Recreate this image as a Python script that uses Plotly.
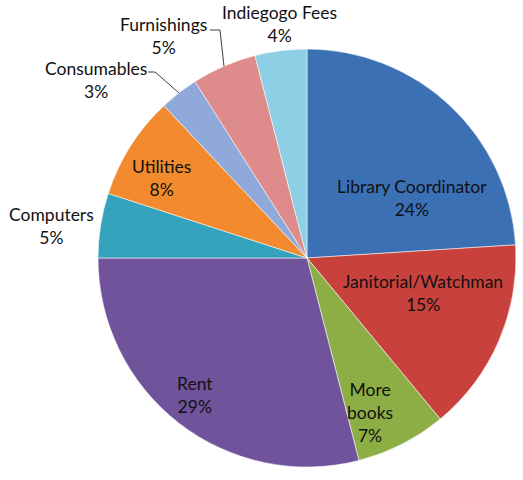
import math
import plotly.graph_objects as go

labels = ["Library Coordinator", "Janitorial/Watchman", "More books", "Rent",
          "Computers", "Utilities", "Consumables", "Furnishings", "Indiegogo Fees"]
values = [24, 15, 7, 29, 5, 8, 3, 5, 4]
display = ["Library Coordinator", "Janitorial/Watchman", "More<br>books", "Rent",
           "Computers", "Utilities", "Consumables", "Furnishings", "Indiegogo Fees"]
colors = ["#3B70B5", "#C8413C", "#8DAE45", "#70539A", "#35A2BE",
          "#F38A2E", "#8FA9DB", "#DE8B8B", "#8DCFE4"]

# label text centres (pixels from top-left) and leader-line elbow points
label_pos = [(412, 198), (423, 293), (370, 412), (195, 395),
             (51, 226), (161, 178), (96, 80), (163, 36), (279, 24)]
leaders = {6: [(148, 72), (155, 72)], 7: [(210, 30), (220, 30)]}

W, H = 523, 480
cx, cy, r = 307, 258, 209

fig = go.Figure(go.Pie(
    labels=labels, values=values,
    textinfo="none",
    sort=False, direction="clockwise", rotation=0,
    marker=dict(colors=colors, line=dict(color="rgba(255,255,255,0.55)", width=1)),
    domain=dict(x=[(cx - r) / W, (cx + r) / W], y=[(H - cy - r) / H, (H - cy + r) / H]),
    showlegend=False, hoverinfo="label+percent",
))

total = sum(values)
px = lambda x: x / W
py = lambda y: 1 - y / H

cum = 0
for i, (lab, v) in enumerate(zip(display, values)):
    mid = (cum + v / 2) / total * 2 * math.pi
    cum += v
    tx, ty = label_pos[i]
    fig.add_annotation(
        x=px(tx), y=py(ty), xref="paper", yref="paper",
        text=f"{lab}<br>{v / total * 100:.0f}%", showarrow=False,
        xanchor="center", yanchor="middle", align="center",
        font=dict(family="Lato", size=17.5, color="#111111"),
    )
    if i in leaders:
        ex = cx + r * math.sin(mid)
        ey = cy - r * math.cos(mid)
        pts = list(leaders[i]) + [(ex, ey)]
        path = "M " + " L ".join(f"{px(a)},{py(b)}" for a, b in pts)
        fig.add_shape(type="path", path=path, xref="paper", yref="paper",
                      line=dict(color="#404040", width=1))

fig.update_layout(width=W, height=H, margin=dict(l=0, r=0, t=0, b=0),
                  paper_bgcolor="white", plot_bgcolor="white")
fig.write_html("out.html", config={"displayModeBar": False},
               post_script="document.body.style.margin='0px';")
